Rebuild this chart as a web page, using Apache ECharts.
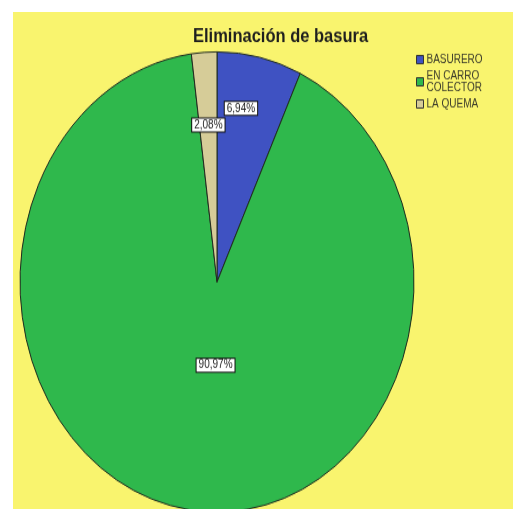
<!DOCTYPE html>
<html>
<head>
<meta charset="utf-8">
<script src="https://cdn.jsdelivr.net/npm/echarts@6/dist/echarts.min.js"></script>
<style>
  html, body { margin: 0; padding: 0; background: #ffffff; width: 513px; height: 509px; overflow: hidden; }
  #bg { position: absolute; left: 13px; top: 12px; width: 500px; height: 497px; background: #f9f46e; }
  #chart { position: absolute; left: 0; top: 0; width: 513px; height: 436px; transform-origin: 0 0; transform: scaleY(1.168); }
</style>
</head>
<body>
<div id="bg"></div>
<div id="chart"></div>
<script>
// ---- data ----
const chartTitle = 'Eliminación de basura';
const categories = ['BASURERO', 'EN CARRO COLECTOR', 'LA QUEMA'];
const percentages = [6.94, 90.97, 2.08];

// ---- styles ----
const sliceColors = ['#3f52c2', '#2fb84c', '#d6cc98'];
const labelShift = [[2, -49.5], [14, -29], [-2, -33]];

const chart = echarts.init(document.getElementById('chart'), null, { renderer: 'canvas' });

const option = {
  backgroundColor: 'transparent',
  animation: false,
  textStyle: { fontFamily: 'Liberation Sans, Arial, sans-serif' },
  title: {
    text: chartTitle,
    left: 193,
    top: 23,
    padding: 0,
    textStyle: { fontSize: 16.5, fontWeight: 'bold', color: '#1e1e1e', fontFamily: 'Liberation Sans, Arial, sans-serif' }
  },
  legend: {
    orient: 'vertical',
    left: 416,
    top: 46,
    padding: 0,
    itemWidth: 7,
    itemHeight: 7,
    itemGap: 4,
    icon: 'rect',
    selectedMode: false,
    itemStyle: { borderColor: '#333', borderWidth: 1 },
    formatter: function (name) { return name.replace(' COLECTOR', '\nCOLECTOR'); },
    textStyle: { fontSize: 10, lineHeight: 10, color: '#3a3a2a', fontFamily: 'Liberation Sans, Arial, sans-serif', padding: [0, 0, 0, -2] },
    data: categories
  },
  series: [{
    type: 'pie',
    center: [217, 241.4],
    radius: [0, 197],
    startAngle: 90,
    clockwise: true,
    avoidLabelOverlap: false,
    silent: true,
    emphasis: { disabled: true },
    itemStyle: { borderColor: '#1f2a1f', borderWidth: 1 },
    label: {
      show: true,
      position: 'inside',
      formatter: function (p) { return p.value.toFixed(2).replace('.', ',') + '%'; },
      fontSize: 10,
      lineHeight: 11,
      color: '#222',
      backgroundColor: '#ffffff',
      borderColor: '#111',
      borderWidth: 1,
      padding: [0, 2],
      fontFamily: 'Liberation Sans, Arial, sans-serif'
    },
    labelLine: { show: false },
    labelLayout: function (p) {
      const s = labelShift[p.dataIndex];
      return { dx: s[0], dy: s[1] };
    },
    data: categories.map(function (c, i) {
      return { name: c, value: percentages[i], itemStyle: { color: sliceColors[i] } };
    })
  }]
};

chart.setOption(option);
</script>
</body>
</html>
